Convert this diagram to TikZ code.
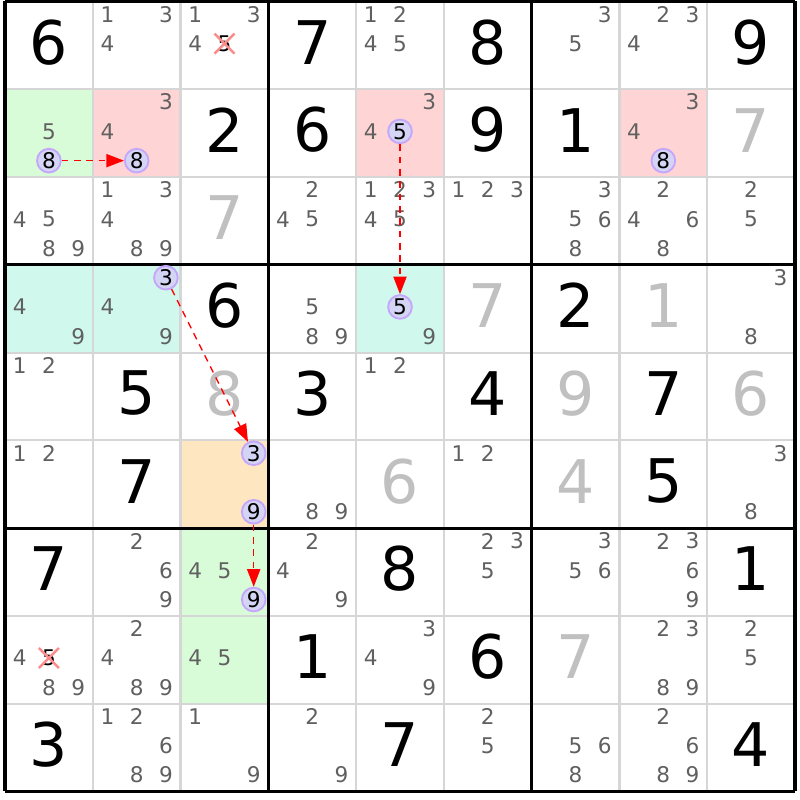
\documentclass[tikz,border=0pt]{standalone}
\usepackage{fontspec}
\setmainfont{DejaVu Sans}
\usetikzlibrary{arrows.meta,shapes.misc}
\definecolor{candgray}{RGB}{96,96,96}
\definecolor{solvedgray}{RGB}{192,192,192}
\definecolor{gridgray}{RGB}{214,214,214}
\definecolor{hlgreen}{RGB}{216,251,216}
\definecolor{hlred}{RGB}{255,212,212}
\definecolor{hlcyan}{RGB}{208,248,236}
\definecolor{hlorange}{RGB}{253,230,192}
\definecolor{pickfill}{RGB}{212,212,244}
\definecolor{pickline}{RGB}{196,166,250}
\definecolor{crossred}{RGB}{250,140,140}

\begin{document}
\begin{tikzpicture}[x=1cm,y=-1cm,
  given/.style={font=\fontsize{19.5}{19.5}\selectfont,inner sep=0pt},
  solved/.style={given,text=solvedgray},
  cand/.style={font=\fontsize{7}{7}\selectfont,text=candgray,inner sep=0pt},
  pick/.style={cand,text=black,circle,draw=pickline,fill=pickfill,line width=0.6pt,minimum size=0.27cm},
  gone/.style={cand,text=black,cross out,draw=crossred,line width=0.8pt,minimum size=0.2cm},
  link/.style={draw=red,dash pattern=on 2.2pt off 1.8pt,line width=0.45pt,-{Triangle[length=0.2cm,width=0.15cm]}}]
  \fill[white] (-0.057,-0.017) rectangle (9.057,9.095);
  \useasboundingbox (-0.057,-0.017) rectangle (9.057,9.095);
  \foreach \r/\c/\col in {2/1/hlgreen,7/3/hlgreen,8/3/hlgreen,2/2/hlred,2/5/hlred,2/8/hlred,
      4/1/hlcyan,4/2/hlcyan,4/5/hlcyan,6/3/hlorange}
    \fill[\col] (\c-1,\r-1) rectangle +(1,1);
  \foreach \i in {1,2,4,5,7,8} {
    \draw[gridgray,line width=0.7pt] (\i,0) -- (\i,9);
    \draw[gridgray,line width=0.7pt] (0,\i) -- (9,\i);
  }
  \foreach \i in {0,3,6,9} {
    \draw[line width=1pt] (\i,0) -- (\i,9);
    \draw[line width=1pt] (0,\i) -- (9,\i);
  }
  \foreach \r/\c/\d in {1/1/6,1/4/7,1/6/8,1/9/9,2/3/2,2/4/6,2/6/9,2/7/1,4/3/6,4/7/2,
      5/2/5,5/4/3,5/6/4,5/8/7,6/2/7,6/8/5,7/1/7,7/5/8,7/9/1,8/4/1,8/6/6,9/1/3,9/5/7,9/9/4}
    \node[given] (g\r\c) at (\c-0.5,\r-0.535) {\d};
  \foreach \r/\c/\d in {2/9/7,3/3/7,4/6/7,4/8/1,5/3/8,5/7/9,5/9/6,6/5/6,6/7/4,8/7/7}
    \node[solved] (g\r\c) at (\c-0.5,\r-0.535) {\d};
  \foreach \r/\c/\ds in {1/2/{1,3,4},1/3/{1,3,4},1/5/{1,2,4,5},1/7/{3,5},1/8/{2,3,4},
      2/1/{5},2/2/{3,4},2/5/{3,4},2/8/{3,4},
      3/1/{4,5,8,9},3/2/{1,3,4,8,9},3/4/{2,4,5},3/5/{1,2,3,4,5},3/6/{1,2,3},
      3/7/{3,5,6,8},3/8/{2,4,6,8},3/9/{2,5},
      4/1/{4,9},4/2/{4,9},4/4/{5,8,9},4/5/{9},4/9/{3,8},
      5/1/{1,2},5/5/{1,2},6/1/{1,2},6/4/{8,9},6/6/{1,2},6/9/{3,8},
      7/2/{2,6,9},7/3/{4,5},7/4/{2,4,9},7/6/{2,3,5},7/7/{3,5,6},7/8/{2,3,6,9},
      8/1/{4,8,9},8/2/{2,4,8,9},8/3/{4,5},8/5/{3,4,9},8/8/{2,3,8,9},8/9/{2,5},
      9/2/{1,2,6,8,9},9/3/{1,9},9/4/{2,9},9/6/{2,5},9/7/{5,6,8},9/8/{2,6,8,9}}
    \foreach \d in \ds
      \node[cand] (n\r\c\d) at ({\c-1+(2*mod(\d-1,3)+1)/6},{\r-1+(2*int((\d-1)/3)+1)/6-0.02}) {\d};
  \foreach \r/\c/\d in {2/1/8,2/2/8,2/5/5,2/8/8,4/2/3,4/5/5,6/3/3,6/3/9,7/3/9}
    \node[pick] (p\r\c\d) at ({\c-1+(2*mod(\d-1,3)+1)/6},{\r-1+(2*int((\d-1)/3)+1)/6-0.02}) {\d};
  \foreach \r/\c/\d in {1/3/5,8/1/5}
    \node[gone] (x\r\c\d) at ({\c-1+(2*mod(\d-1,3)+1)/6},{\r-1+(2*int((\d-1)/3)+1)/6-0.02}) {\d};
  \draw[link] (p218) -- (p228);
  \draw[link] (p255) -- (p455);
  \draw[link] (p423) -- (p633);
  \draw[link] (p639) -- (p739);
\end{tikzpicture}
\end{document}
